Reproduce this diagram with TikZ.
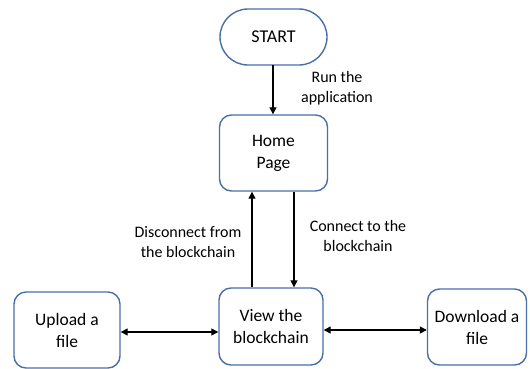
\documentclass[tikz,border=0pt]{standalone}
\usepackage{fontspec}
\setmainfont{Carlito}
\usetikzlibrary{arrows.meta}
\definecolor{boxblue}{HTML}{4A6FA8}
\begin{document}
\begin{tikzpicture}[x=1pt,y=-1pt,
  flowbox/.style={draw=boxblue,line width=1.4pt,rounded corners=12pt,fill=white,
    align=center,font=\fontsize{17.5}{22}\selectfont,inner sep=0pt},
  link/.style={line width=1.3pt,-{Triangle[length=7pt,width=7pt]}},
  dlink/.style={line width=1.3pt,{Triangle[length=7pt,width=7pt]}-{Triangle[length=7pt,width=7pt]}},
  lbl/.style={align=center,font=\fontsize{16}{20.5}\selectfont,inner sep=0pt}]
\useasboundingbox (0,0) rectangle (530,368);
% start terminal drawn as a stadium
\draw[draw=boxblue,line width=1.4pt,fill=white,rounded corners=28pt]
  (220,9) rectangle (327,65);
\node[font=\fontsize{18}{22}\selectfont] (start) at (273.5,37) {START};
\coordinate (startb) at (273,65);
\node[flowbox,minimum width=108pt,minimum height=76pt] (home) at (273.5,153) {Home\\Page};
\node[flowbox,minimum width=104pt,minimum height=77pt] (view) at (271,326.5) {View the\\blockchain};
\node[flowbox,minimum width=106pt,minimum height=76pt] (upload) at (67,330) {Upload a\\file};
\node[flowbox,minimum width=99pt,minimum height=76pt] (download) at (477,327) {Download a\\file};

\draw[link] (startb) -- (home.north -| startb);
\node[lbl] (runlbl) at (337,88) {Run the\\application};

\draw[link] (view.north -| 252,0) -- (home.south -| 252,0);
\draw[link] (home.south -| 294,0) -- (view.north -| 294,0);
\node[lbl] (disc) at (188,242) {Disconnect from\\the blockchain};
\node[lbl] (conn) at (358,236) {Connect to the\\blockchain};

\draw[dlink] (upload.east |- 0,332) -- (view.west |- 0,332);
\draw[dlink] (view.east |- 0,330) -- (download.west |- 0,330);
\end{tikzpicture}
\end{document}
